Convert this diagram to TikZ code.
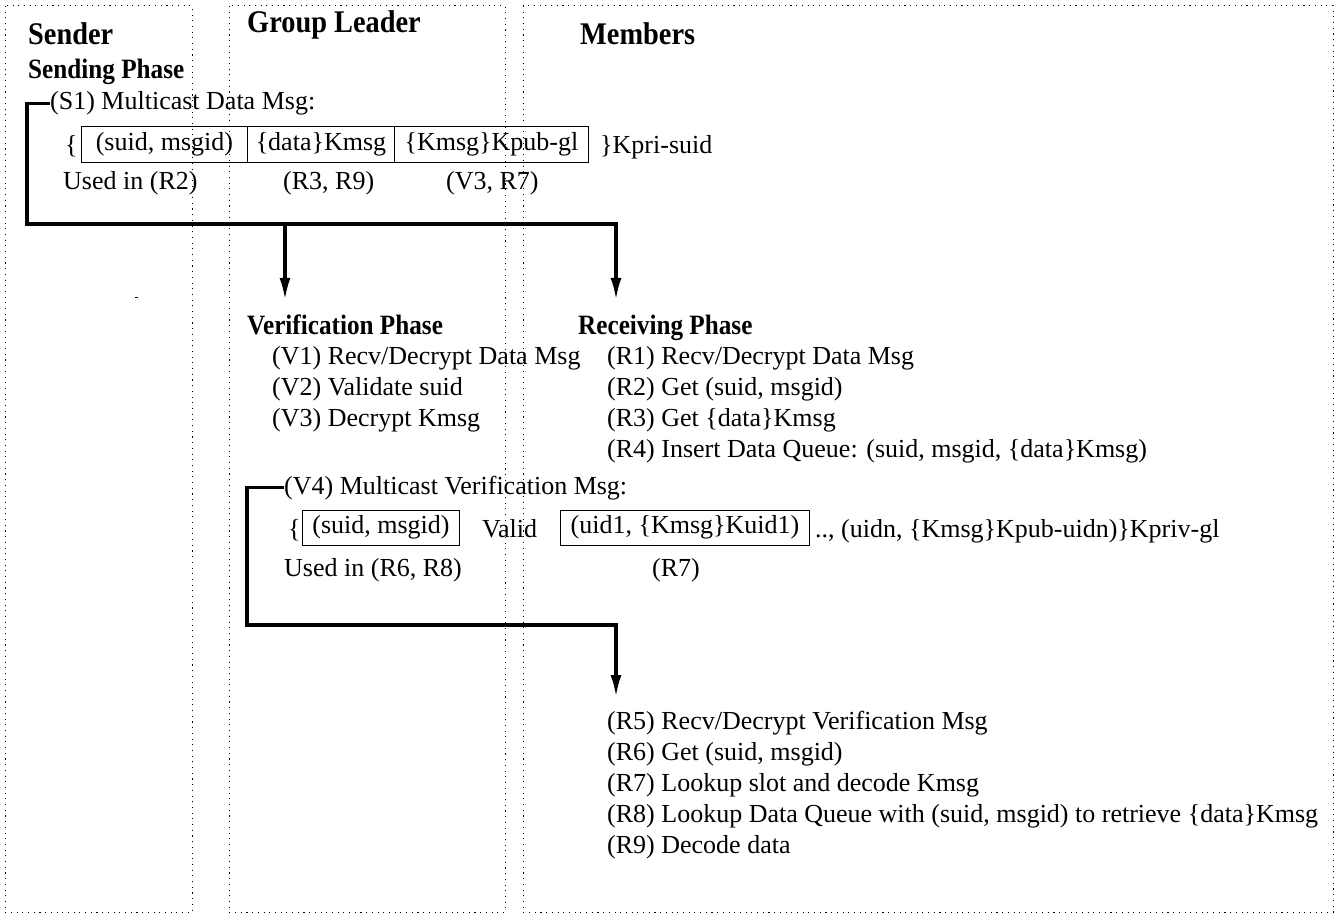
\documentclass[tikz,border=0pt]{standalone}
\usepackage{fontspec}
\setmainfont{Liberation Serif}
\newfontfamily\headfont{Liberation Serif}[FakeStretch=0.9]
\usetikzlibrary{arrows.meta}

\tikzstyle{lane}=[draw, line width=1pt, dash pattern=on 1.1pt off 4.6pt]
\tikzstyle{ttl}=[anchor=base west, inner sep=0pt, font=\headfont\fontsize{31.5}{36}\selectfont\bfseries]
\tikzstyle{phase}=[anchor=base west, inner sep=0pt, font=\headfont\fontsize{28}{32}\selectfont\bfseries]
\tikzstyle{txt}=[anchor=base west, inner sep=0pt, font=\fontsize{26}{30}\selectfont]
\tikzstyle{fld}=[draw, line width=0.9pt, anchor=north west, inner sep=0pt, text height=17pt, text depth=5.5pt, font=\fontsize{26}{30}\selectfont]
\tikzstyle{flow}=[line width=3.2pt, -{Latex[length=22pt,width=11pt]}]

\begin{document}
\begin{tikzpicture}[x=1pt,y=-1pt]
        \useasboundingbox (0,0) rectangle (1338,917);
        \draw[lane] (5,6) rectangle (192,912);
        \draw[lane] (229,6) rectangle (505,912);
        \draw[lane] (523,6) rectangle (1333,912);
        \fill (135,296.5) rectangle (138,298);
        %
        \draw (28,45) node[ttl](sndr){Sender};
        \draw (247,33) node[ttl](lead){Group Leader};
        \draw (580,45) node[ttl](memb){Members};
        \draw (28,79) node[phase](sendph){Sending Phase};
        %
        \draw (50,110) node[txt](s1){(S1) Multicast Data Msg:};
        \draw (65,154) node[txt](ob1){\{};
        \draw (81,126) node[fld,minimum width=166,minimum height=36](f11){(suid, msgid)};
        \draw (247,126) node[fld,minimum width=147,minimum height=36](f12){\{data\}Kmsg};
        \draw (394,126) node[fld,minimum width=194,minimum height=36](f13){\{Kmsg\}Kpub-gl};
        \draw (600,154) node[txt](cb1){\}Kpri-suid};
        \draw (63,190) node[txt](u11){Used in (R2)};
        \draw (283,190) node[txt](u12){(R3, R9)};
        \draw (446,190) node[txt](u13){(V3, R7)};
        %
        \coordinate (bend1) at (27,224);
        \coordinate (split1) at (285,224);
        \coordinate (vtip) at (285,300);
        \coordinate (rtip) at (616,300);
        \draw[flow] (s1.west) -| (bend1) -| (rtip);
        \draw[flow] (split1) -- (vtip);
        %
        \draw (247,334) node[phase](verph){Verification Phase};
        \draw (578,334) node[phase](recph){Receiving Phase};
        \draw (272,364) node[txt](v1){(V1) Recv/Decrypt Data Msg};
        \draw (272,395) node[txt](v2){(V2) Validate suid};
        \draw (272,426) node[txt](v3){(V3) Decrypt Kmsg};
        \draw (607,364) node[txt](r1){(R1) Recv/Decrypt Data Msg};
        \draw (607,395) node[txt](r2){(R2) Get (suid, msgid)};
        \draw (607,426) node[txt](r3){(R3) Get \{data\}Kmsg};
        \draw (607,457) node[txt](r4){(R4) Insert Data Queue: (suid, msgid, \{data\}Kmsg)};
        %
        \draw (284,494) node[txt](v4){(V4) Multicast Verification Msg:};
        \draw (288,537) node[txt](ob2){\{};
        \draw (302,510) node[fld,minimum width=157,minimum height=35](f21){(suid, msgid)};
        \draw (482,537) node[txt](valid){Valid};
        \draw (560,510) node[fld,minimum width=249,minimum height=35](f22){(uid1, \{Kmsg\}Kuid1)};
        \draw (815,537) node[txt](cb2){.., (uidn, \{Kmsg\}Kpub-uidn)\}Kpriv-gl};
        \draw (284,576) node[txt](u21){Used in (R6, R8)};
        \draw (652,576) node[txt](u22){(R7)};
        %
        \coordinate (bend2) at (247,625);
        \coordinate (rtip2) at (616,697);
        \draw[flow] (v4.west) -| (bend2) -| (rtip2);
        %
        \draw (607,729) node[txt](r5){(R5) Recv/Decrypt Verification Msg};
        \draw (607,760) node[txt](r6){(R6) Get (suid, msgid)};
        \draw (607,791) node[txt](r7){(R7) Lookup slot and decode Kmsg};
        \draw (607,822) node[txt](r8){(R8) Lookup Data Queue with (suid, msgid) to retrieve \{data\}Kmsg};
        \draw (607,853) node[txt](r9){(R9) Decode data};
\end{tikzpicture}
\end{document}
